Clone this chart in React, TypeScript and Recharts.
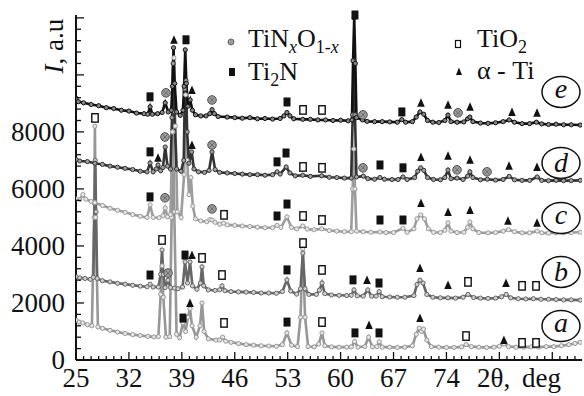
import { ComposedChart, Line, Scatter, XAxis, YAxis } from "recharts";

type Pt = [number, number];

// 2θ (deg), intensity (a.u.), curves already offset
const patternA: Pt[] = [
  [25.0, 1400], [25.4, 1330], [25.9, 1300], [26.5, 1240], [27.1, 1200], [27.4, 5000], [27.5, 8200], [27.6, 5000],
  [27.9, 1160], [28.5, 1110], [29.5, 1040], [30.5, 980], [31.5, 930], [32.5, 890], [33.5, 860], [34.5, 830],
  [35.3, 810], [35.9, 820], [36.2, 2300], [36.38, 3300], [36.55, 2200], [36.9, 800], [37.4, 820], [37.65, 5000],
  [37.83, 8000], [38.0, 5200], [38.3, 900], [38.7, 780], [39.15, 1300], [39.5, 1000], [39.8, 1500], [40.08, 1800],
  [40.35, 1200], [40.9, 800], [41.4, 1200], [41.67, 2000], [41.95, 1000], [42.5, 740], [43.5, 700], [44.0, 700],
  [44.4, 800], [44.8, 660], [45.5, 620], [46.5, 580], [47.5, 540], [48.5, 520], [49.5, 500], [50.5, 490],
  [51.5, 480], [52.3, 540], [52.9, 950], [53.5, 520], [54.3, 470], [54.7, 1500], [55.0, 3900], [55.3, 1500],
  [55.7, 470], [56.5, 460], [57.1, 560], [57.54, 950], [57.9, 500], [58.8, 460], [59.8, 450], [60.8, 450],
  [61.4, 460], [61.85, 650], [62.3, 450], [63.2, 470], [63.7, 800], [64.2, 460], [64.8, 470], [65.1, 640],
  [65.5, 450], [66.5, 450], [67.5, 440], [68.5, 450], [69.5, 500], [70.0, 900], [70.4, 1120], [70.7, 1000],
  [70.95, 1080], [71.4, 700], [72.0, 470], [73.0, 450], [74.0, 440], [75.0, 440], [76.0, 460], [76.6, 540],
  [77.3, 470], [78.3, 450], [79.3, 440], [80.3, 450], [81.0, 480], [81.6, 560], [82.2, 470], [83.2, 450],
  [84.2, 450], [85.2, 460], [86.2, 450], [87.2, 470], [88.2, 470], [89.2, 500], [90.2, 540], [91.0, 580],
  [91.7, 620],
];

const patternB: Pt[] = [
  [25.0, 2920], [25.5, 2880], [26.2, 2860], [26.9, 2830], [27.3, 2900], [27.45, 5500], [27.55, 7000], [27.65, 5200],
  [27.8, 2860], [28.5, 2780], [29.5, 2740], [30.5, 2690], [31.5, 2660], [32.5, 2620], [33.5, 2590], [34.4, 2570],
  [34.8, 2660], [35.2, 2560], [35.9, 2560], [36.2, 3000], [36.38, 3860], [36.55, 3000], [36.8, 2540], [37.17, 2800],
  [37.5, 2540], [38.0, 2520], [38.5, 2500], [39.1, 2560], [39.42, 3440], [39.75, 2700], [40.08, 3440], [40.4, 2600],
  [41.0, 2480], [41.45, 2700], [41.67, 3270], [41.9, 2600], [42.5, 2460], [43.4, 2440], [44.0, 2460], [44.31, 2600],
  [44.7, 2430], [45.5, 2400], [46.5, 2390], [47.5, 2380], [48.5, 2370], [49.5, 2350], [50.5, 2350], [51.5, 2340],
  [52.3, 2400], [52.9, 2810], [53.4, 2420], [54.2, 2310], [54.7, 2500], [55.0, 3750], [55.3, 2500], [55.8, 2300],
  [56.8, 2300], [57.2, 2450], [57.54, 2700], [57.9, 2330], [58.8, 2280], [59.8, 2270], [60.8, 2260], [61.4, 2270],
  [61.77, 2460], [62.2, 2250], [63.0, 2240], [63.6, 2460], [64.1, 2240], [64.7, 2240], [65.1, 2400], [65.5, 2220],
  [66.5, 2210], [67.5, 2200], [68.5, 2200], [69.7, 2260], [70.1, 2650], [70.5, 2800], [70.9, 2700], [71.4, 2300],
  [72.2, 2200], [73.2, 2180], [74.2, 2180], [75.2, 2170], [76.2, 2200], [76.85, 2300], [77.6, 2190], [78.5, 2170],
  [79.5, 2160], [80.5, 2170], [81.3, 2220], [81.9, 2300], [82.5, 2180], [83.5, 2150], [84.5, 2140], [85.5, 2150],
  [86.5, 2130], [87.5, 2130], [88.5, 2120], [89.5, 2110], [90.5, 2110], [91.7, 2100],
];

const patternC: Pt[] = [
  [25.0, 5650], [25.5, 5620], [25.9, 5800], [26.3, 5640], [27.0, 5560], [27.5, 5520], [28.5, 5420], [29.5, 5320],
  [30.5, 5250], [31.5, 5180], [32.5, 5100], [33.5, 5040], [34.4, 5000], [34.8, 5440], [35.2, 5000], [36.0, 4990],
  [36.5, 5060], [36.8, 5330], [37.1, 5020], [37.5, 5100], [37.75, 8000], [37.95, 10600], [38.15, 8200], [38.4, 5200],
  [38.9, 5000], [39.3, 6500], [39.5, 9300], [39.7, 7000], [39.95, 5800], [40.2, 6400], [40.45, 5400], [40.8, 4950],
  [41.5, 4880], [42.3, 4850], [42.7, 4920], [43.0, 4910], [43.4, 4830], [44.0, 4760], [44.5, 4800], [45.0, 4740],
  [46.0, 4720], [47.0, 4700], [48.0, 4680], [49.0, 4660], [50.0, 4640], [51.0, 4640], [51.6, 4720], [52.1, 4650],
  [52.9, 5020], [53.5, 4650], [54.2, 4600], [55.0, 4700], [55.6, 4590], [56.5, 4570], [57.5, 4600], [58.5, 4540],
  [59.5, 4520], [60.5, 4500], [61.4, 4500], [61.6, 6000], [61.75, 7400], [61.9, 6000], [62.1, 4520], [63.0, 4500],
  [64.0, 4480], [65.2, 4490], [66.0, 4470], [67.0, 4470], [68.25, 4620], [68.8, 4480], [69.7, 4600], [70.1, 4950],
  [70.6, 5090], [71.1, 4950], [71.6, 4600], [72.3, 4480], [73.2, 4470], [73.8, 4550], [74.2, 4810], [74.6, 4520],
  [75.4, 4470], [76.3, 4480], [76.8, 4650], [77.1, 4840], [77.5, 4600], [78.3, 4470], [79.5, 4460], [80.5, 4470],
  [81.5, 4520], [82.2, 4570], [83.0, 4500], [84.0, 4460], [85.0, 4460], [86.0, 4520], [86.6, 4460], [87.5, 4450],
  [88.5, 4460], [89.5, 4460], [90.5, 4470], [91.7, 4480],
];

const patternD: Pt[] = [
  [25.0, 7030], [25.5, 6980], [26.5, 6960], [27.5, 6900], [28.5, 6860], [29.5, 6800], [30.5, 6760], [31.5, 6720],
  [32.5, 6680], [33.5, 6620], [34.4, 6600], [34.8, 6910], [35.2, 6600], [35.6, 6700], [35.85, 6840], [36.2, 6640],
  [36.5, 6750], [36.8, 7470], [37.1, 6800], [37.5, 6700], [37.7, 8500], [37.85, 10400], [38.0, 8700], [38.3, 6700],
  [38.9, 6620], [39.25, 7000], [39.4, 9500], [39.55, 9800], [39.7, 8000], [39.95, 6900], [40.3, 7300], [40.6, 6700],
  [41.2, 6600], [42.0, 6580], [42.6, 6650], [43.0, 7300], [43.4, 6680], [44.0, 6580], [45.0, 6560], [46.0, 6540],
  [47.0, 6520], [48.0, 6500], [49.0, 6500], [50.0, 6480], [51.0, 6500], [51.6, 6600], [52.0, 6520], [52.8, 6770],
  [53.3, 6560], [54.0, 6460], [55.0, 6480], [56.0, 6440], [57.5, 6460], [58.5, 6410], [59.5, 6400], [60.5, 6380],
  [61.4, 6380], [61.6, 8600], [61.75, 10500], [61.9, 8600], [62.1, 6420], [63.0, 6450], [63.6, 6360], [64.5, 6340],
  [65.2, 6400], [65.8, 6340], [66.8, 6330], [67.6, 6330], [68.25, 6420], [68.8, 6330], [69.8, 6400], [70.2, 6620],
  [70.6, 6740], [71.0, 6650], [71.5, 6400], [72.3, 6330], [73.2, 6320], [73.8, 6400], [74.2, 6660], [74.6, 6360],
  [75.4, 6380], [76.2, 6330], [76.8, 6450], [77.1, 6600], [77.5, 6400], [78.5, 6320], [79.4, 6340], [80.5, 6310],
  [81.5, 6330], [82.3, 6440], [83.0, 6320], [84.0, 6300], [85.0, 6300], [86.0, 6420], [86.6, 6300], [87.5, 6290],
  [88.5, 6300], [89.5, 6290], [90.5, 6290], [91.7, 6300],
];

const patternE: Pt[] = [
  [25.0, 9180], [25.3, 9060], [26.0, 9020], [27.0, 8960], [28.0, 8920], [29.0, 8850], [30.0, 8820], [31.0, 8760],
  [32.0, 8730], [33.0, 8660], [34.0, 8640], [34.5, 8620], [34.8, 8880], [35.1, 8620], [35.8, 8640], [36.4, 8680],
  [36.8, 9020], [37.2, 8700], [37.6, 8760], [37.75, 9600], [37.9, 10950], [38.05, 9700], [38.3, 8700], [38.8, 8580],
  [39.15, 8760], [39.3, 9600], [39.45, 10880], [39.6, 9700], [39.8, 8900], [40.1, 9120], [40.4, 8760], [40.8, 8600],
  [41.5, 8560], [42.2, 8560], [42.7, 8640], [43.0, 8780], [43.3, 8640], [43.8, 8540], [45.0, 8520], [46.0, 8500],
  [47.0, 8480], [48.0, 8500], [49.0, 8460], [50.0, 8470], [51.0, 8450], [52.0, 8470], [52.5, 8560], [52.9, 8680],
  [53.3, 8560], [53.8, 8460], [55.0, 8440], [56.0, 8440], [57.0, 8420], [58.0, 8420], [59.0, 8400], [60.0, 8410],
  [61.0, 8390], [61.5, 8420], [61.65, 10500], [61.8, 12000], [61.95, 10400], [62.1, 8500], [62.9, 8420], [63.5, 8370],
  [64.5, 8360], [65.5, 8360], [66.5, 8350], [67.5, 8340], [68.1, 8430], [68.6, 8340], [69.5, 8360], [70.0, 8520],
  [70.5, 8700], [71.0, 8620], [71.5, 8400], [72.2, 8340], [73.0, 8330], [73.8, 8400], [74.2, 8590], [74.6, 8360],
  [75.4, 8340], [76.3, 8350], [76.8, 8460], [77.1, 8520], [77.5, 8360], [78.5, 8310], [79.5, 8300], [80.5, 8320],
  [81.5, 8360], [82.3, 8420], [83.0, 8340], [84.0, 8290], [85.0, 8290], [85.9, 8340], [86.6, 8280], [87.5, 8260],
  [88.5, 8270], [89.5, 8250], [90.5, 8250], [91.7, 8240],
];

// phase markers (2θ, height on the plot)
const ti2nMarks: Pt[] = [
  [34.79, 9230], [39.55, 11230], [52.91, 9050], [61.9, 12100], [68.1, 8700],
  [34.79, 7300], [51.59, 6950], [52.78, 7260], [65.21, 6840], [68.25, 6740],
  [34.79, 5720], [51.59, 5050], [52.91, 5470], [65.21, 4910], [68.25, 4910],
  [34.79, 2980], [39.42, 3680], [52.91, 3160], [61.64, 2810], [65.08, 2700],
  [39.15, 1470], [52.91, 1330], [61.9, 950], [65.08, 950],
];
const tio2Marks: Pt[] = [
  [55.03, 8770], [57.54, 8770],
  [55.03, 6770], [57.54, 6740],
  [44.58, 5090], [55.03, 5050], [57.54, 4910],
  [27.51, 8490], [36.38, 4210], [41.67, 3580], [44.31, 2980], [55.03, 4100], [57.54, 3160], [76.85, 2740], [84.0, 2600], [85.85, 2600],
  [44.58, 1300], [57.54, 1330], [76.59, 840], [84.0, 600], [85.85, 600],
];
const alphaTiMarks: Pt[] = [
  [37.96, 11230], [40.34, 9470], [70.63, 9020], [74.21, 8950], [77.12, 8880], [82.67, 8700], [85.98, 8670],
  [35.85, 7090], [40.34, 7540], [70.63, 7120], [74.21, 7160], [77.12, 7020], [82.28, 6810], [85.98, 6770],
  [70.63, 5510], [74.21, 5190], [77.12, 5260], [82.14, 4880], [85.98, 4810],
  [40.34, 3680], [63.49, 2810], [70.5, 3230], [74.21, 2630], [81.88, 2700],
  [40.08, 2000], [63.76, 1230], [70.5, 1470], [81.6, 700],
];
const tinoMarks: Pt[] = [
  [36.9, 9370], [42.99, 9120], [62.96, 8600], [75.53, 8670],
  [36.77, 7820], [42.99, 7540], [62.96, 6740], [75.4, 6670], [79.37, 6600],
  [36.77, 5690], [42.99, 5300],
  [37.17, 3050],
];

const curveNames = ["a", "b", "c", "d", "e"];
const curveNamePos: Pt[] = [[89.15, 1190], [89.15, 3090], [89.15, 4980], [89.15, 6910], [89.15, 9400]];

const xLabels = [25, 32, 39, 46, 53, 60, 67, 74];
const yLabels = [0, 2000, 4000, 6000, 8000];

const xTicks = Array.from({ length: 67 }, (_, i) => 25 + i);
const yTicks = Array.from({ length: 31 }, (_, i) => i * 400);
const topTicks = Array.from({ length: 43 }, (_, i) => i);

const curves = [
  { name: "a", data: patternA, color: "#979797", dotFill: "#e6e6e6" },
  { name: "b", data: patternB, color: "#666666", dotFill: "#cfcfcf" },
  { name: "c", data: patternC, color: "#9c9c9c", dotFill: "#e6e6e6" },
  { name: "d", data: patternD, color: "#333333", dotFill: "#a0a0a0" },
  { name: "e", data: patternE, color: "#111111", dotFill: "#888888" },
];

const PLOT = { left: 76, right: 582, top: 15, bottom: 360 };
const FONT = '"Liberation Serif", "Times New Roman", serif';
const INK = "#111";

const toXY = (pts: Pt[]) => pts.map(([x, y]) => ({ x, y }));

function BottomTick(props: any) {
  const { x, payload } = props;
  const v = payload.value;
  const major = (v - 25) % 7 === 0;
  return (
    <g>
      <line x1={x} x2={x} y1={PLOT.bottom} y2={PLOT.bottom - (major ? 8 : 4)} stroke={INK} strokeWidth={1.3} />
      {xLabels.includes(v) && (
        <text x={x} y={387} textAnchor="middle" fontSize={27} fontFamily={FONT} fill={INK}>
          {v}
        </text>
      )}
    </g>
  );
}

function TopTick(props: any) {
  const { x } = props;
  return <line x1={x} x2={x} y1={PLOT.top} y2={PLOT.top + 5} stroke={INK} strokeWidth={1.3} />;
}

function LeftTick(props: any) {
  const { y, payload } = props;
  const v = payload.value;
  const major = v % 2000 === 0;
  return (
    <g>
      <line x1={PLOT.left} x2={PLOT.left + (major ? 8 : 5)} y1={y} y2={y} stroke={INK} strokeWidth={1.3} />
      {yLabels.includes(v) && (
        <text x={65} y={y + 9} textAnchor="end" fontSize={27} fontFamily={FONT} fill={INK}>
          {v}
        </text>
      )}
    </g>
  );
}

function RightTick(props: any) {
  const { y, payload } = props;
  const major = payload.value % 2000 === 0;
  return <line x1={PLOT.right} x2={PLOT.right - (major ? 8 : 5)} y1={y} y2={y} stroke={INK} strokeWidth={1.3} />;
}

const squareFilled = (p: any) => <rect x={p.cx - 3.5} y={p.cy - 4.5} width={7} height={9} fill={INK} />;
const squareOpen = (p: any) => (
  <rect x={p.cx - 3.2} y={p.cy - 4.2} width={6.4} height={8.4} fill="#fff" stroke={INK} strokeWidth={1.4} />
);
const triangle = (p: any) => (
  <path d={`M${p.cx},${p.cy - 4.5}L${p.cx + 3.8},${p.cy + 4}L${p.cx - 3.8},${p.cy + 4}Z`} fill={INK} />
);
const hatchedCircle = (p: any) => (
  <g>
    <circle cx={p.cx} cy={p.cy} r={4.3} fill="#9a9a9a" stroke="#505050" strokeWidth={1} />
    <path
      d={`M${p.cx - 2.5},${p.cy - 2.5}L${p.cx + 2.5},${p.cy + 2.5}M${p.cx + 2.5},${p.cy - 2.5}L${p.cx - 2.5},${p.cy + 2.5}`}
      stroke="#606060"
      strokeWidth={0.8}
    />
  </g>
);
const circledName = (p: any) => {
  const name = p.payload.name;
  const tall = name === "b" || name === "d";
  return (
    <g>
      <ellipse cx={p.cx} cy={p.cy} rx={19} ry={15.5} fill="#fff" stroke={INK} strokeWidth={1.5} />
      <text
        x={p.cx}
        y={p.cy + (tall ? 9 : 6)}
        textAnchor="middle"
        fontSize={28}
        fontStyle="italic"
        fontFamily={FONT}
        fill={INK}
      >
        {name}
      </text>
    </g>
  );
};

function LegendOverlay() {
  return (
    <svg
      width={584}
      height={396}
      style={{ position: "absolute", left: 0, top: 0, pointerEvents: "none" }}
      fontFamily={FONT}
      fill={INK}
    >
      <circle cx={231} cy={42} r={3} fill="#9a9a9a" stroke="#505050" strokeWidth={0.8} />
      <text x={248} y={47} fontSize={26}>
        TiN
        <tspan fontSize={18} fontStyle="italic" dy={6}>x</tspan>
        <tspan dy={-6}>O</tspan>
        <tspan fontSize={18} dy={6}>1-</tspan>
        <tspan fontSize={18} fontStyle="italic">x</tspan>
      </text>
      <rect x={229} y={68} width={6} height={8} fill={INK} />
      <text x={248} y={80} fontSize={26}>
        Ti
        <tspan fontSize={18} dy={6}>2</tspan>
        <tspan dy={-6}>N</tspan>
      </text>
      <rect x={455.5} y={40.5} width={5} height={7} fill="#fff" stroke={INK} strokeWidth={1.2} />
      <text x={477} y={47} fontSize={26}>
        TiO
        <tspan fontSize={18} dy={6}>2</tspan>
      </text>
      <path d="M459,67.5L462,75L456,75Z" fill={INK} />
      <text x={477} y={79} fontSize={26}>
        α - Ti
      </text>
      <text x={477} y={387} fontSize={27} wordSpacing={5}>
        2θ, deg
      </text>
      <text x={63} y={46} fontSize={27} textAnchor="middle" transform="rotate(-90 63 46)">
        <tspan fontStyle="italic">I</tspan>, a.u
      </text>
    </svg>
  );
}

export default function App() {
  const nameData = curveNamePos.map(([x, y], i) => ({ x, y, name: curveNames[i] }));
  return (
    <div style={{ position: "absolute", left: 0, top: 0, width: 584, height: 396, background: "#fff" }}>
      <ComposedChart width={584} height={396} margin={{ top: 15, right: 2, bottom: 0, left: 0 }}>
        <XAxis
          dataKey="x"
          type="number"
          domain={[25, 91.93]}
          ticks={xTicks}
          interval={0}
          tick={BottomTick}
          tickLine={false}
          axisLine={{ stroke: INK, strokeWidth: 2 }}
          height={36}
          allowDataOverflow
        />
        <XAxis
          xAxisId="top"
          orientation="top"
          type="number"
          domain={[0, 42]}
          ticks={topTicks}
          interval={0}
          tick={TopTick}
          tickLine={false}
          axisLine={{ stroke: INK, strokeWidth: 2 }}
          height={0}
          allowDataOverflow
        />
        <YAxis
          dataKey="y"
          type="number"
          domain={[0, 12100]}
          ticks={yTicks}
          interval={0}
          tick={LeftTick}
          tickLine={false}
          axisLine={{ stroke: INK, strokeWidth: 2 }}
          width={76}
        />
        <YAxis
          yAxisId="right"
          orientation="right"
          type="number"
          domain={[0, 12100]}
          ticks={yTicks}
          interval={0}
          tick={RightTick}
          tickLine={false}
          axisLine={{ stroke: INK, strokeWidth: 1.5 }}
          width={0}
        />
        {curves.map((c) => (
          <Line
            key={c.name}
            data={toXY(c.data)}
            dataKey="y"
            type="linear"
            stroke={c.color}
            strokeWidth={2.6}
            dot={{ r: 2.1, fill: c.dotFill, stroke: c.color, strokeWidth: 1 }}
            isAnimationActive={false}
          />
        ))}
        <Scatter data={toXY(ti2nMarks)} shape={squareFilled} isAnimationActive={false} />
        <Scatter data={toXY(tio2Marks)} shape={squareOpen} isAnimationActive={false} />
        <Scatter data={toXY(alphaTiMarks)} shape={triangle} isAnimationActive={false} />
        <Scatter data={toXY(tinoMarks)} shape={hatchedCircle} isAnimationActive={false} />
        <Scatter data={nameData} shape={circledName} isAnimationActive={false} />
      </ComposedChart>
      <LegendOverlay />
    </div>
  );
}
